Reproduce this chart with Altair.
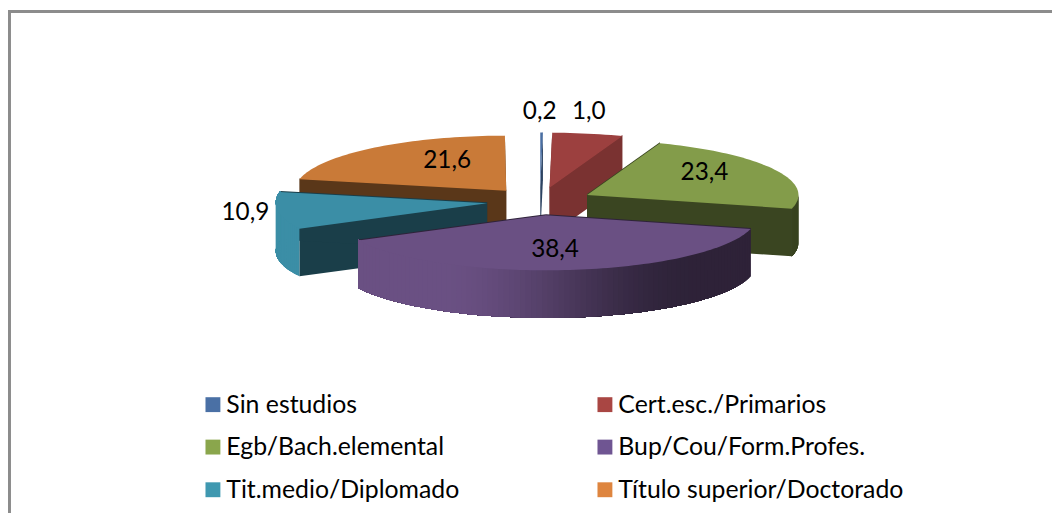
import math
import altair as alt

# --- data ---
categories = ["Sin estudios", "Cert.esc./Primarios", "Egb/Bach.elemental",
              "Bup/Cou/Form.Profes.", "Tit.medio/Diplomado", "Título superior/Doctorado"]
labels = ["0,2", "1,0", "23,4", "38,4", "10,9", "21,6"]
# share of the full turn each slice occupies in the picture (the red wedge is drawn wider than its label)
shares = [0.2, 5.4, 23.4, 38.4, 10.9, 21.6]

# --- styles and layout ---
top_colors = ["#4a6fa3", "#9c403f", "#839c4a", "#6a5083", "#3b8ea6", "#c97a38"]
legend_colors = ["#4a70a5", "#a94643", "#8aa64c", "#6f5592", "#3f98b0", "#de853f"]
wall_factor = [0.6, 0.78, 0.44, 0.44, 0.44, 0.45]
draw_order = [5, 0, 1, 2, 4, 3]
label_r = [1.62, 1.634, 0.936, 0.877, 1.41, 0.849]
label_turn = [0.4, 2.3, 6.0, -1.8, 1.1, -8.1]
CX, CY, RX, RY, DEPTH, EXPLODE = 536.0, 193.0, 213.0, 55.5, 48.0, 0.252
FONT = "Lato"


def shade(hex_color, f):
    r, g, b = (int(hex_color[i:i + 2], 16) for i in (1, 3, 5))
    return "#%02x%02x%02x" % (round(r * f), round(g * f), round(b * f))


def rim(ax, ay, deg):
    a = math.radians(deg)
    return ax + RX * math.cos(a), ay - RY * math.sin(a)


def feature(points, fill):
    ring = [list(p) for p in points] + [list(points[0])]
    return {"type": "Feature", "properties": {"fill": fill},
            "geometry": {"type": "Polygon", "coordinates": [ring]}}


def wall_shade(deg):
    c = math.cos(math.radians(deg))
    t = max(0.0, min(1.0, (c + 0.5) / 1.2))
    t = t * t * (3 - 2 * t)
    return 1 - 0.57 * t


starts, acc = [], 0.0
for s in shares:
    starts.append(acc)
    acc += s * 3.6

features, text_rows = [], []
for i in range(len(shares)):
    a0 = 90 - starts[i]
    a1 = a0 - shares[i] * 3.6
    mid = (a0 + a1) / 2
    rad = math.radians(mid)
    ax = CX + EXPLODE * RX * math.cos(rad)
    ay = CY - EXPLODE * RY * math.sin(rad)
    t = math.radians(mid + label_turn[i])
    text_rows.append({"text": labels[i],
                      "lx": CX + label_r[i] * RX * math.cos(t),
                      "ly": CY - label_r[i] * RY * math.sin(t)})
    steps = max(4, int(abs(a0 - a1) / 1.5))
    angles = [a0 + (a1 - a0) * k / steps for k in range(steps + 1)]
    slice_feats = []
    dark = shade(top_colors[i], wall_factor[i])
    # radial walls
    for edge in (a0, a1):
        p = rim(ax, ay, edge)
        slice_feats.append(feature([(ax, ay - 1), (p[0], p[1] - 1), (p[0], p[1] + DEPTH), (ax, ay + DEPTH)], dark))
    # outer wall: each strip runs to the end of the arc and the next paints over it, so no seams
    for k in range(steps):
        m = (angles[k] + angles[k + 1]) / 2
        if math.sin(math.radians(m)) > 0.02:
            continue
        arc = [rim(ax, ay, d) for d in angles[k:]]
        poly = [(x, y - 1) for x, y in arc] + [(x, y + DEPTH) for x, y in reversed(arc)]
        slice_feats.append(feature(poly, shade(top_colors[i], wall_shade(m))))
    # top face
    slice_feats.append(feature([(ax, ay)] + [rim(ax, ay, d) for d in angles], top_colors[i]))
    features.append(slice_feats)

ordered = [f for i in draw_order for f in features[i]]

pie = alt.Chart(alt.Data(values=ordered)).mark_geoshape(strokeWidth=0).encode(
    fill=alt.Fill("properties.fill:N", scale=None, legend=None),
).project(type="identity", scale=1, translate=[0, 0])

text = alt.Chart(alt.Data(values=text_rows)).mark_text(
    font=FONT, fontSize=24.5, color="#000000", baseline="middle", align="center"
).encode(
    x=alt.X("lx:Q", scale=None, axis=None),
    y=alt.Y("ly:Q", scale=None, axis=None),
    text="text:N",
)

legend_src = alt.Chart(alt.Data(values=[{"c": c} for c in categories])).mark_square(opacity=0).encode(
    x=alt.value(-50), y=alt.value(-50),
    color=alt.Color("c:N", sort=categories,
                    scale=alt.Scale(domain=categories, range=legend_colors),
                    legend=alt.Legend(title=None, orient="none", legendX=194, legendY=385,
                                      direction="horizontal", columns=2, columnPadding=134, rowPadding=17,
                                      symbolType="square", symbolSize=225, symbolOpacity=1,
                                      symbolStrokeWidth=0, labelFont=FONT, labelFontSize=25,
                                      labelColor="#000000", labelLimit=400, labelOffset=1,
                                      padding=0)),
)

frame_left = alt.Chart(alt.Data(values=[{"k": 0}])).mark_rule(color="#8c8c8c", strokeWidth=3).encode(
    x=alt.value(1.5), y=alt.value(0), y2=alt.value(507))
frame_top = alt.Chart(alt.Data(values=[{"k": 0}])).mark_rule(color="#8c8c8c", strokeWidth=3).encode(
    y=alt.value(1.5), x=alt.value(0), x2=alt.value(1052))

chart = alt.layer(frame_left, frame_top, pie, text, legend_src).properties(
    width=1052, height=507, padding=0, autosize=alt.AutoSizeParams(type="none"), background="#ffffff"
).configure_view(stroke=None)

chart.save("out.html", embed_options={"renderer": "svg", "actions": False})
